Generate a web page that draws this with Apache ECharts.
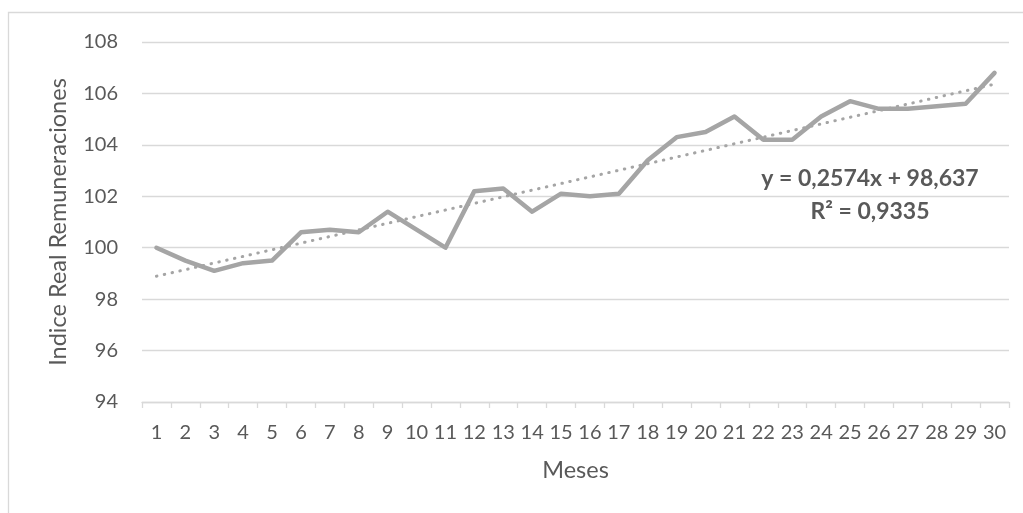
<!DOCTYPE html>
<html>
<head>
<meta charset="utf-8">
<title>Indice Real Remuneraciones</title>
<script src="https://cdn.jsdelivr.net/npm/echarts@6/dist/echarts.min.js"></script>
<style>
  html, body { margin: 0; padding: 0; background: #fff; }
  #chart { width: 1023px; height: 513px; }
</style>
</head>
<body>
<div id="chart"></div>
<script>
// meses 1..30
var meses = ['1', '2', '3', '4', '5', '6', '7', '8', '9', '10',
    '11', '12', '13', '14', '15', '16', '17', '18', '19', '20',
    '21', '22', '23', '24', '25', '26', '27', '28', '29', '30'];
// indice real de remuneraciones
var indice = [100.0, 99.5, 99.1, 99.4, 99.5, 100.6, 100.7, 100.6, 101.4, 100.7,
    100.0, 102.2, 102.3, 101.4, 102.1, 102.0, 102.1, 103.4, 104.3, 104.5,
    105.1, 104.2, 104.2, 105.1, 105.7, 105.4, 105.4, 105.5, 105.6, 106.8];
// extremos de la linea de tendencia (mes, valor)
var tendencia = [['1', 98.89], ['30', 106.36]];
var ecuacion = ['y = 0,2574x + 98,637', 'R² = 0,9335'];

var font = 'Lato, "Open Sans", sans-serif';
var gris = '#A5A5A5';
var texto = '#595959';
var rejilla = '#D9D9D9';

var chart = echarts.init(document.getElementById('chart'));
chart.setOption({
    animation: false,
    textStyle: { fontFamily: font },
    grid: { left: 142, right: 14, top: 42, bottom: 111 },
    xAxis: {
        type: 'category',
        data: meses,
        boundaryGap: true,
        name: 'Meses',
        nameLocation: 'middle',
        nameGap: 56,
        nameTextStyle: { fontSize: 23.5, color: texto, fontFamily: font },
        axisLine: { lineStyle: { color: rejilla, width: 1.3 } },
        axisTick: { show: true, length: 6, lineStyle: { color: rejilla, width: 1.3 } },
        axisLabel: { fontSize: 20, color: texto, margin: 21, interval: 0, fontFamily: font }
    },
    yAxis: {
        type: 'value',
        min: 94,
        max: 108,
        interval: 2,
        name: 'Indice Real Remuneraciones',
        nameLocation: 'middle',
        nameGap: 72,
        nameTextStyle: { fontSize: 23.5, color: texto, fontFamily: font },
        axisLine: { show: false },
        axisTick: { show: false },
        axisLabel: { fontSize: 20, color: texto, margin: 24, fontFamily: font },
        splitLine: { lineStyle: { color: rejilla, width: 1.3 } }
    },
    graphic: [
        {
            type: 'rect',
            z: -1,
            shape: { x: 8.5, y: 12.5, width: 1100, height: 600 },
            style: { fill: 'none', stroke: rejilla, lineWidth: 1.3 }
        },
        {
            type: 'text',
            style: {
                x: 870, y: 179,
                text: ecuacion[0],
                font: 'bold 23px ' + font,
                fill: texto,
                align: 'center',
                verticalAlign: 'middle'
            }
        },
        {
            type: 'text',
            style: {
                x: 870, y: 212,
                text: ecuacion[1],
                font: 'bold 23px ' + font,
                fill: texto,
                align: 'center',
                verticalAlign: 'middle'
            }
        }
    ],
    series: [
        {
            name: 'Tendencia',
            type: 'line',
            data: tendencia,
            symbol: 'none',
            silent: true,
            z: 1,
            lineStyle: { color: gris, width: 3, type: [0.5, 7.5], cap: 'round' }
        },
        {
            name: 'Indice',
            type: 'line',
            data: indice,
            symbol: 'none',
            z: 2,
            lineStyle: { color: gris, width: 4.5, join: 'round', cap: 'round' }
        }
    ]
});
</script>
</body>
</html>
